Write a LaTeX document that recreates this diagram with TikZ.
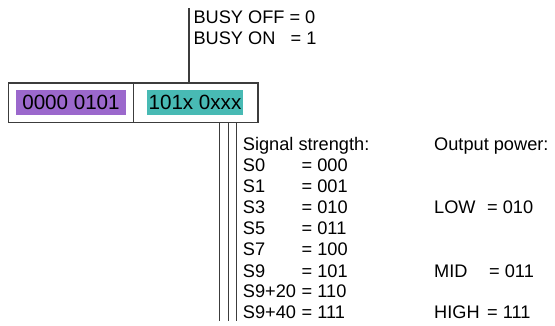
\documentclass[tikz,border=0pt]{standalone}
\usepackage{fontspec}
\setmainfont{Liberation Sans}
\definecolor{fieldpurple}{RGB}{155,104,204}
\definecolor{fieldteal}{RGB}{72,186,180}
\definecolor{linegray}{RGB}{60,60,60}
\begin{document}
\begin{tikzpicture}[x=1pt,y=-1pt,
  rule/.style={draw=linegray,line width=1.1pt},
  label/.style={anchor=base west,inner sep=0pt,font=\fontsize{18.2}{21}\selectfont},
  field/.style={inner sep=0pt,minimum height=25pt,font=\fontsize{20.6}{24}\selectfont}]
\useasboundingbox (0,0) rectangle (555,326);

% register frame with its two fields
\draw[rule] (8.3,83) rectangle (258,122.7);
\draw[rule] (133.3,83) -- (133.3,122.7);
\node[field,fill=fieldpurple,minimum width=110pt] (hi) at (71,102.5) {0000 0101};
\node[field,fill=fieldteal,minimum width=96pt] (lo) at (195,102.5) {101x 0xxx};

% busy bit
\coordinate (busytop) at (189,8);
\coordinate (busybot) at (189,83);
\draw[rule] (busybot) -- (busytop);
\node[label] (busyoff) at (193.3,23.5) {BUSY OFF = 0};
\node[label] (busyon) at (193.3,45) {BUSY ON};
\node[label] (busyoneq) at (290.5,45) {= 1};

% three bit lines
\foreach \x/\n in {219.3/a,228.3/b,236.7/c}{
  \coordinate (bit\n top) at (\x,122.7);
  \coordinate (bit\n bot) at (\x,321);
  \draw[rule] (bit\n top) -- (bit\n bot);
}

% signal strength table
\node[label] (sighead) at (242.7,151) {Signal strength:};
\foreach \s/\v [count=\i from 1] in {S0/000,S1/001,S3/010,S5/011,S7/100,S9/101,S9+20/110,S9+40/111}{
  \node[label] (sig\i) at (242.7,151+21*\i) {\s};
  \node[label] (sigv\i) at (301.5,151+21*\i) {= \v};
}

% output power table
\node[label] (powhead) at (434,151) {Output power:};
\node[label] (low) at (434,214) {LOW};
\node[label] (lowv) at (487,214) {= 010};
\node[label] (mid) at (434,277) {MID};
\node[label] (midv) at (489,277) {= 011};
\node[label] (high) at (434,319) {HIGH};
\node[label] (highv) at (487,319) {= 111};
\end{tikzpicture}
\end{document}
